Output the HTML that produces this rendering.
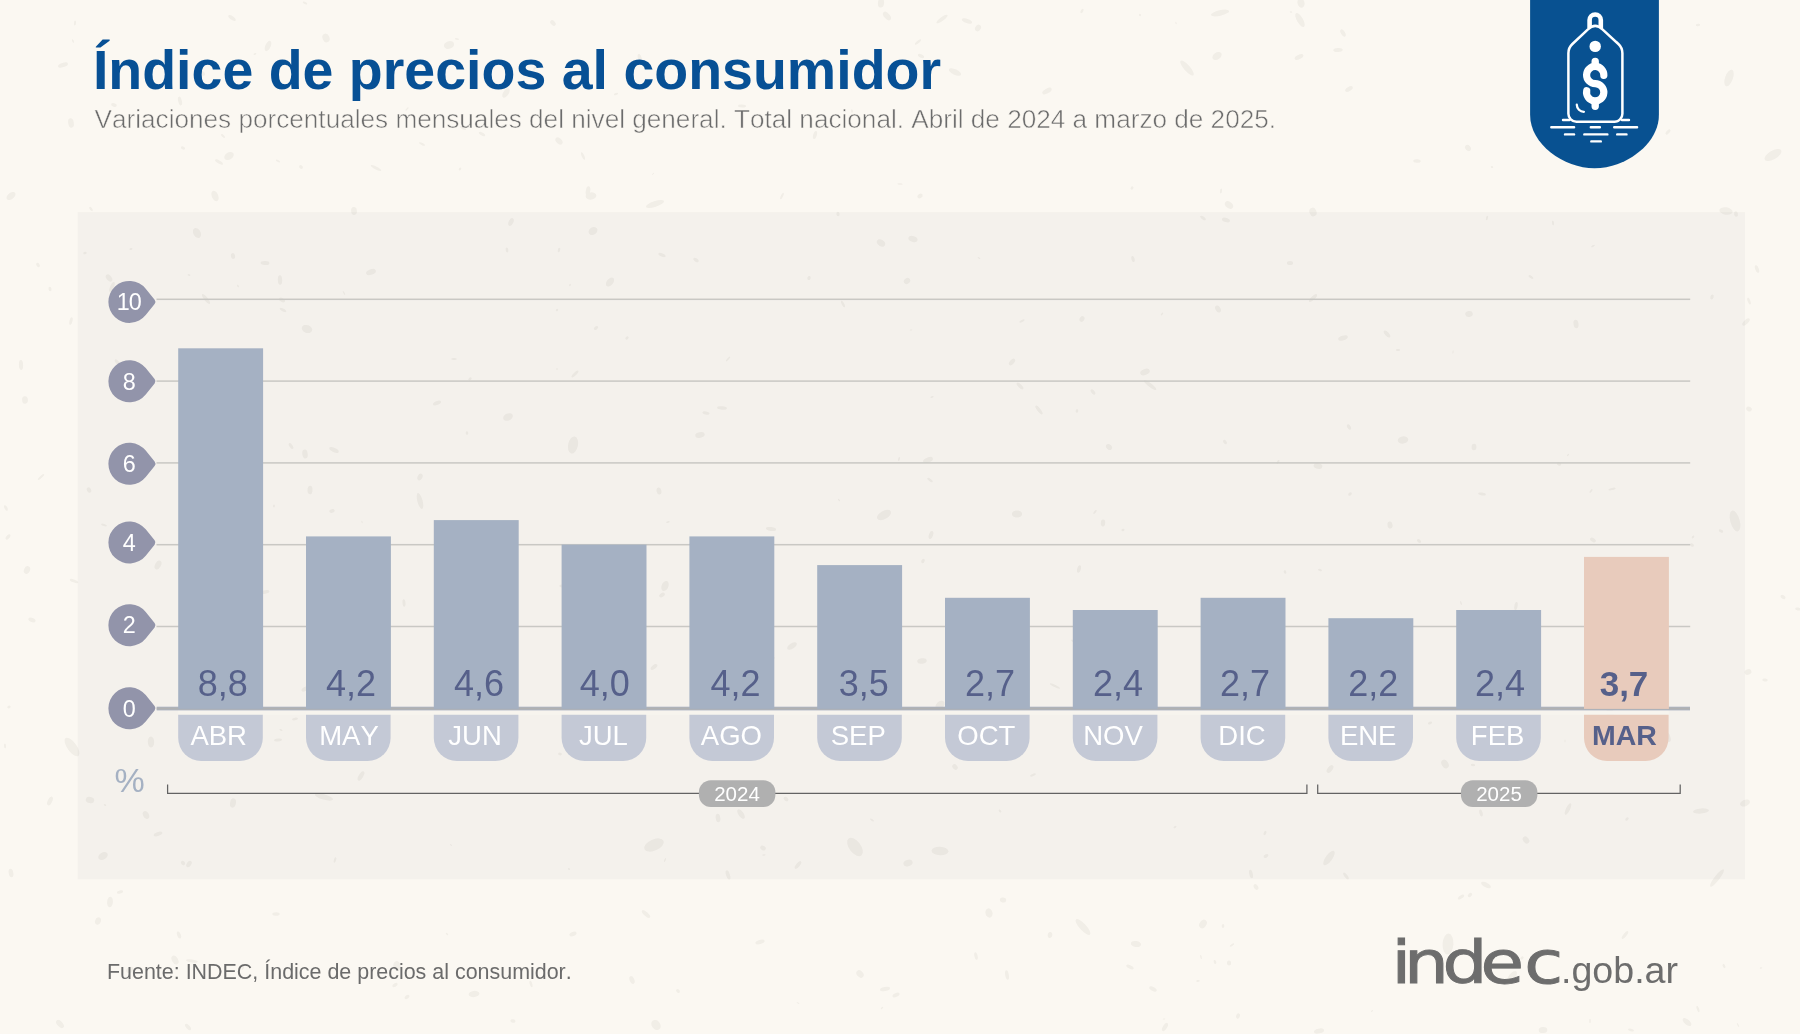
<!DOCTYPE html>
<html lang="es"><head><meta charset="utf-8"><title>Índice de precios al consumidor</title>
<style>
html,body{margin:0;padding:0;background:#fbf8f2;}
body{width:1800px;height:1034px;overflow:hidden;}
svg{display:block;}
text{font-family:"Liberation Sans",sans-serif;font-kerning:none;}
.t{font-weight:700;font-size:55.5px;fill:#075095;}
.s{font-size:26.15px;fill:#6c6c6c;stroke:#fbf8f2;stroke-width:0.55px;}
.v{font-size:36px;fill:#56608a;text-anchor:middle;}
.m{font-size:27.5px;fill:#ffffff;text-anchor:middle;}
.k{font-size:23.4px;fill:#ffffff;text-anchor:middle;}
.y{font-size:20.5px;fill:#ffffff;text-anchor:middle;}
.f{font-size:21.45px;fill:#6b6b6b;}
.w{fill:none;stroke:#ffffff;stroke-linecap:round;stroke-linejoin:round;}
</style></head><body>
<svg width="1800" height="1034" viewBox="0 0 1800 1034">
<rect width="1800" height="1034" fill="#fbf8f2"/>
<rect x="77.7" y="212.1" width="1667.3" height="667.2" fill="#f4f1ec"/>
<g fill="#3a3020" opacity="0.05"><ellipse cx="583" cy="156" rx="4.0" ry="1.3" transform="rotate(66 583 156)"/><ellipse cx="104" cy="525" rx="3.0" ry="1.1" transform="rotate(16 104 525)"/><ellipse cx="764" cy="855" rx="1.7" ry="0.7" transform="rotate(171 764 855)"/><ellipse cx="1039" cy="410" rx="5.4" ry="1.7" transform="rotate(52 1039 410)"/><ellipse cx="260" cy="122" rx="2.5" ry="1.8" transform="rotate(105 260 122)"/><ellipse cx="1150" cy="385" rx="7.8" ry="1.9" transform="rotate(37 1150 385)"/><ellipse cx="1225" cy="442" rx="2.6" ry="1.5" transform="rotate(54 1225 442)"/><ellipse cx="1430" cy="723" rx="2.2" ry="1.3" transform="rotate(158 1430 723)"/><ellipse cx="1313" cy="298" rx="5.4" ry="1.9" transform="rotate(136 1313 298)"/><ellipse cx="274" cy="506" rx="1.4" ry="0.9" transform="rotate(103 274 506)"/><ellipse cx="1576" cy="324" rx="4.2" ry="2.5" transform="rotate(82 1576 324)"/><ellipse cx="1512" cy="977" rx="7.1" ry="3.3" transform="rotate(126 1512 977)"/><ellipse cx="1165" cy="1027" rx="4.7" ry="2.1" transform="rotate(120 1165 1027)"/><ellipse cx="41" cy="477" rx="4.2" ry="1.1" transform="rotate(138 41 477)"/><ellipse cx="233" cy="256" rx="2.9" ry="2.1" transform="rotate(81 233 256)"/><ellipse cx="989" cy="913" rx="4.7" ry="3.5" transform="rotate(75 989 913)"/><ellipse cx="646" cy="914" rx="5.3" ry="2.0" transform="rotate(42 646 914)"/><ellipse cx="420" cy="501" rx="8.2" ry="2.6" transform="rotate(75 420 501)"/><ellipse cx="665" cy="586" rx="5.3" ry="3.4" transform="rotate(111 665 586)"/><ellipse cx="1217" cy="56" rx="5.1" ry="3.5" transform="rotate(144 1217 56)"/><ellipse cx="706" cy="413" rx="3.6" ry="1.6" transform="rotate(12 706 413)"/><ellipse cx="376" cy="168" rx="5.9" ry="1.4" transform="rotate(27 376 168)"/><ellipse cx="183" cy="376" rx="1.3" ry="1.0" transform="rotate(27 183 376)"/><ellipse cx="454" cy="359" rx="2.8" ry="1.0" transform="rotate(179 454 359)"/><ellipse cx="839" cy="500" rx="1.6" ry="0.6" transform="rotate(48 839 500)"/><ellipse cx="1492" cy="167" rx="1.3" ry="1.0" transform="rotate(26 1492 167)"/><ellipse cx="978" cy="28" rx="3.5" ry="2.7" transform="rotate(125 978 28)"/><ellipse cx="470" cy="379" rx="1.9" ry="1.3" transform="rotate(140 470 379)"/><ellipse cx="593" cy="231" rx="4.7" ry="3.7" transform="rotate(145 593 231)"/><ellipse cx="1473" cy="765" rx="2.2" ry="1.2" transform="rotate(5 1473 765)"/><ellipse cx="50" cy="289" rx="2.3" ry="1.5" transform="rotate(81 50 289)"/><ellipse cx="1687" cy="1022" rx="5.3" ry="2.6" transform="rotate(41 1687 1022)"/><ellipse cx="354" cy="211" rx="3.9" ry="2.9" transform="rotate(86 354 211)"/><ellipse cx="1175" cy="827" rx="1.6" ry="1.0" transform="rotate(141 1175 827)"/><ellipse cx="1350" cy="494" rx="2.0" ry="1.4" transform="rotate(144 1350 494)"/><ellipse cx="1749" cy="409" rx="2.9" ry="2.3" transform="rotate(31 1749 409)"/><ellipse cx="229" cy="156" rx="5.1" ry="3.6" transform="rotate(149 229 156)"/><ellipse cx="1765" cy="680" rx="2.7" ry="1.6" transform="rotate(3 1765 680)"/><ellipse cx="1748" cy="672" rx="3.5" ry="2.7" transform="rotate(157 1748 672)"/><ellipse cx="1487" cy="218" rx="2.3" ry="1.0" transform="rotate(106 1487 218)"/><ellipse cx="467" cy="433" rx="1.8" ry="1.3" transform="rotate(82 467 433)"/><ellipse cx="1050" cy="935" rx="3.0" ry="2.3" transform="rotate(96 1050 935)"/><ellipse cx="942" cy="19" rx="6.8" ry="1.9" transform="rotate(144 942 19)"/><ellipse cx="310" cy="490" rx="4.3" ry="2.5" transform="rotate(93 310 490)"/><ellipse cx="1000" cy="811" rx="1.7" ry="1.0" transform="rotate(50 1000 811)"/><ellipse cx="1390" cy="525" rx="3.6" ry="2.5" transform="rotate(80 1390 525)"/><ellipse cx="1103" cy="523" rx="3.4" ry="2.2" transform="rotate(96 1103 523)"/><ellipse cx="860" cy="974" rx="4.2" ry="3.1" transform="rotate(47 860 974)"/><ellipse cx="1007" cy="975" rx="4.8" ry="1.8" transform="rotate(80 1007 975)"/><ellipse cx="131" cy="249" rx="1.5" ry="1.0" transform="rotate(161 131 249)"/><ellipse cx="278" cy="740" rx="4.0" ry="1.5" transform="rotate(174 278 740)"/><ellipse cx="395" cy="985" rx="2.9" ry="1.6" transform="rotate(150 395 985)"/><ellipse cx="291" cy="446" rx="3.4" ry="1.6" transform="rotate(57 291 446)"/><ellipse cx="1300" cy="20" rx="7.9" ry="3.0" transform="rotate(60 1300 20)"/><ellipse cx="1123" cy="530" rx="1.5" ry="1.2" transform="rotate(175 1123 530)"/><ellipse cx="189" cy="275" rx="1.4" ry="0.9" transform="rotate(23 189 275)"/><ellipse cx="760" cy="942" rx="4.7" ry="2.0" transform="rotate(165 760 942)"/><ellipse cx="1027" cy="724" rx="1.6" ry="0.5" transform="rotate(77 1027 724)"/><ellipse cx="130" cy="970" rx="3.9" ry="2.8" transform="rotate(154 130 970)"/><ellipse cx="120" cy="892" rx="3.2" ry="1.5" transform="rotate(167 120 892)"/><ellipse cx="482" cy="134" rx="3.5" ry="1.5" transform="rotate(29 482 134)"/><ellipse cx="91" cy="209" rx="2.5" ry="1.2" transform="rotate(52 91 209)"/><ellipse cx="900" cy="184" rx="2.7" ry="0.8" transform="rotate(3 900 184)"/><ellipse cx="1320" cy="570" rx="2.0" ry="1.1" transform="rotate(19 1320 570)"/><ellipse cx="1474" cy="447" rx="3.3" ry="2.4" transform="rotate(91 1474 447)"/><ellipse cx="1238" cy="1016" rx="2.7" ry="1.9" transform="rotate(114 1238 1016)"/><ellipse cx="728" cy="359" rx="3.2" ry="0.8" transform="rotate(133 728 359)"/><ellipse cx="460" cy="169" rx="1.6" ry="1.1" transform="rotate(121 460 169)"/><ellipse cx="507" cy="250" rx="2.5" ry="1.3" transform="rotate(80 507 250)"/><ellipse cx="474" cy="994" rx="5.4" ry="3.1" transform="rotate(174 474 994)"/><ellipse cx="557" cy="369" rx="1.2" ry="0.6" transform="rotate(90 557 369)"/><ellipse cx="362" cy="522" rx="1.2" ry="0.5" transform="rotate(72 362 522)"/><ellipse cx="75" cy="23" rx="2.5" ry="1.0" transform="rotate(95 75 23)"/><ellipse cx="1351" cy="680" rx="4.3" ry="3.2" transform="rotate(59 1351 680)"/><ellipse cx="1773" cy="155" rx="9.5" ry="4.3" transform="rotate(150 1773 155)"/><ellipse cx="1605" cy="649" rx="4.4" ry="3.1" transform="rotate(94 1605 649)"/><ellipse cx="908" cy="863" rx="4.7" ry="3.3" transform="rotate(161 908 863)"/><ellipse cx="1229" cy="717" rx="2.2" ry="0.7" transform="rotate(65 1229 717)"/><ellipse cx="189" cy="864" rx="3.6" ry="2.2" transform="rotate(123 189 864)"/><ellipse cx="881" cy="3" rx="4.6" ry="3.1" transform="rotate(96 881 3)"/><ellipse cx="1187" cy="68" rx="9.6" ry="3.0" transform="rotate(48 1187 68)"/><ellipse cx="1313" cy="212" rx="4.4" ry="3.5" transform="rotate(69 1313 212)"/><ellipse cx="862" cy="707" rx="4.5" ry="2.7" transform="rotate(14 862 707)"/><ellipse cx="265" cy="263" rx="4.4" ry="2.0" transform="rotate(2 265 263)"/><ellipse cx="109" cy="278" rx="4.1" ry="2.6" transform="rotate(52 109 278)"/><ellipse cx="930" cy="480" rx="3.2" ry="1.2" transform="rotate(36 930 480)"/><ellipse cx="1761" cy="968" rx="1.3" ry="0.7" transform="rotate(174 1761 968)"/><ellipse cx="809" cy="278" rx="2.1" ry="1.6" transform="rotate(105 809 278)"/><ellipse cx="255" cy="542" rx="5.3" ry="1.9" transform="rotate(92 255 542)"/><ellipse cx="1596" cy="727" rx="2.2" ry="1.6" transform="rotate(4 1596 727)"/><ellipse cx="6" cy="508" rx="3.1" ry="1.4" transform="rotate(62 6 508)"/><ellipse cx="569" cy="869" rx="1.2" ry="0.8" transform="rotate(22 569 869)"/><ellipse cx="1668" cy="737" rx="5.1" ry="2.3" transform="rotate(71 1668 737)"/><ellipse cx="1798" cy="609" rx="2.8" ry="1.4" transform="rotate(9 1798 609)"/><ellipse cx="183" cy="863" rx="2.4" ry="1.9" transform="rotate(48 183 863)"/><ellipse cx="920" cy="196" rx="2.8" ry="2.2" transform="rotate(146 920 196)"/><ellipse cx="1136" cy="944" rx="5.2" ry="3.0" transform="rotate(9 1136 944)"/><ellipse cx="1318" cy="466" rx="4.4" ry="2.8" transform="rotate(9 1318 466)"/><ellipse cx="1668" cy="132" rx="3.2" ry="1.5" transform="rotate(133 1668 132)"/><ellipse cx="1757" cy="269" rx="4.0" ry="1.8" transform="rotate(71 1757 269)"/><ellipse cx="301" cy="167" rx="2.1" ry="1.6" transform="rotate(40 301 167)"/><ellipse cx="1631" cy="1030" rx="3.1" ry="1.2" transform="rotate(16 1631 1030)"/><ellipse cx="616" cy="94" rx="2.2" ry="1.0" transform="rotate(160 616 94)"/><ellipse cx="1349" cy="427" rx="3.0" ry="1.7" transform="rotate(61 1349 427)"/><ellipse cx="112" cy="287" rx="5.4" ry="1.9" transform="rotate(113 112 287)"/><ellipse cx="1553" cy="223" rx="2.4" ry="1.0" transform="rotate(80 1553 223)"/><ellipse cx="1717" cy="878" rx="10.9" ry="2.5" transform="rotate(128 1717 878)"/><ellipse cx="1612" cy="489" rx="3.7" ry="1.1" transform="rotate(167 1612 489)"/><ellipse cx="1486" cy="885" rx="5.4" ry="2.3" transform="rotate(28 1486 885)"/><ellipse cx="940" cy="705" rx="5.2" ry="3.5" transform="rotate(138 940 705)"/><ellipse cx="823" cy="570" rx="1.4" ry="0.9" transform="rotate(166 823 570)"/><ellipse cx="1162" cy="314" rx="1.8" ry="0.7" transform="rotate(126 1162 314)"/><ellipse cx="202" cy="73" rx="3.5" ry="2.0" transform="rotate(40 202 73)"/><ellipse cx="1082" cy="11" rx="2.5" ry="1.3" transform="rotate(116 1082 11)"/><ellipse cx="1591" cy="491" rx="2.2" ry="0.9" transform="rotate(127 1591 491)"/><ellipse cx="553" cy="23" rx="3.3" ry="2.1" transform="rotate(46 553 23)"/><ellipse cx="1201" cy="957" rx="2.2" ry="0.7" transform="rotate(76 1201 957)"/><ellipse cx="1229" cy="205" rx="4.6" ry="3.1" transform="rotate(37 1229 205)"/><ellipse cx="1746" cy="322" rx="4.7" ry="2.0" transform="rotate(137 1746 322)"/><ellipse cx="531" cy="984" rx="3.3" ry="1.3" transform="rotate(75 531 984)"/><ellipse cx="1198" cy="981" rx="1.8" ry="0.9" transform="rotate(175 1198 981)"/><ellipse cx="255" cy="54" rx="1.5" ry="0.7" transform="rotate(159 255 54)"/><ellipse cx="1319" cy="1031" rx="5.2" ry="2.4" transform="rotate(168 1319 1031)"/><ellipse cx="1343" cy="33" rx="4.1" ry="2.0" transform="rotate(60 1343 33)"/><ellipse cx="305" cy="3" rx="2.4" ry="1.1" transform="rotate(22 305 3)"/><ellipse cx="1736" cy="214" rx="2.7" ry="1.9" transform="rotate(78 1736 214)"/><ellipse cx="89" cy="490" rx="2.8" ry="2.1" transform="rotate(66 89 490)"/><ellipse cx="1615" cy="31" rx="3.0" ry="2.1" transform="rotate(7 1615 31)"/><ellipse cx="63" cy="65" rx="5.2" ry="2.2" transform="rotate(162 63 65)"/><ellipse cx="610" cy="282" rx="5.3" ry="3.2" transform="rotate(129 610 282)"/><ellipse cx="570" cy="285" rx="1.2" ry="0.8" transform="rotate(114 570 285)"/><ellipse cx="1698" cy="25" rx="2.2" ry="1.2" transform="rotate(172 1698 25)"/><ellipse cx="696" cy="260" rx="3.0" ry="1.7" transform="rotate(33 696 260)"/><ellipse cx="1445" cy="764" rx="4.7" ry="3.3" transform="rotate(59 1445 764)"/><ellipse cx="575" cy="374" rx="4.6" ry="1.5" transform="rotate(136 575 374)"/><ellipse cx="445" cy="67" rx="1.3" ry="0.8" transform="rotate(176 445 67)"/><ellipse cx="1590" cy="1021" rx="2.3" ry="0.8" transform="rotate(90 1590 1021)"/><ellipse cx="1278" cy="462" rx="2.2" ry="1.1" transform="rotate(121 1278 462)"/><ellipse cx="1346" cy="876" rx="4.1" ry="1.5" transform="rotate(53 1346 876)"/><ellipse cx="1020" cy="386" rx="4.4" ry="1.7" transform="rotate(44 1020 386)"/><ellipse cx="276" cy="914" rx="3.7" ry="1.7" transform="rotate(179 276 914)"/><ellipse cx="913" cy="239" rx="4.7" ry="2.9" transform="rotate(18 913 239)"/><ellipse cx="855" cy="847" rx="10.6" ry="5.8" transform="rotate(53 855 847)"/><ellipse cx="215" cy="196" rx="5.4" ry="3.2" transform="rotate(67 215 196)"/><ellipse cx="1559" cy="464" rx="2.3" ry="1.6" transform="rotate(19 1559 464)"/><ellipse cx="1073" cy="641" rx="2.1" ry="1.0" transform="rotate(37 1073 641)"/><ellipse cx="459" cy="620" rx="8.8" ry="2.6" transform="rotate(59 459 620)"/><ellipse cx="1221" cy="191" rx="2.5" ry="1.0" transform="rotate(99 1221 191)"/><ellipse cx="114" cy="105" rx="2.9" ry="1.7" transform="rotate(16 114 105)"/><ellipse cx="295" cy="719" rx="3.0" ry="1.3" transform="rotate(172 295 719)"/><ellipse cx="562" cy="586" rx="2.7" ry="1.4" transform="rotate(179 562 586)"/><ellipse cx="655" cy="204" rx="9.5" ry="2.8" transform="rotate(162 655 204)"/><ellipse cx="763" cy="848" rx="2.9" ry="2.2" transform="rotate(29 763 848)"/><ellipse cx="27" cy="570" rx="4.0" ry="3.0" transform="rotate(112 27 570)"/><ellipse cx="668" cy="522" rx="1.8" ry="0.8" transform="rotate(167 668 522)"/><ellipse cx="196" cy="507" rx="4.7" ry="3.7" transform="rotate(23 196 507)"/><ellipse cx="1698" cy="1009" rx="3.3" ry="1.1" transform="rotate(70 1698 1009)"/><ellipse cx="1628" cy="641" rx="4.7" ry="1.8" transform="rotate(40 1628 641)"/><ellipse cx="728" cy="875" rx="4.8" ry="1.9" transform="rotate(72 728 875)"/><ellipse cx="932" cy="397" rx="1.7" ry="0.7" transform="rotate(162 932 397)"/><ellipse cx="74" cy="581" rx="4.5" ry="1.4" transform="rotate(21 74 581)"/><ellipse cx="1079" cy="569" rx="3.9" ry="1.8" transform="rotate(105 1079 569)"/><ellipse cx="766" cy="681" rx="6.9" ry="2.6" transform="rotate(111 766 681)"/><ellipse cx="881" cy="243" rx="4.5" ry="3.1" transform="rotate(32 881 243)"/><ellipse cx="852" cy="111" rx="1.8" ry="0.9" transform="rotate(80 852 111)"/><ellipse cx="918" cy="42" rx="3.9" ry="1.3" transform="rotate(140 918 42)"/><ellipse cx="921" cy="56" rx="3.4" ry="1.6" transform="rotate(25 921 56)"/><ellipse cx="1543" cy="1030" rx="4.3" ry="3.1" transform="rotate(177 1543 1030)"/><ellipse cx="885" cy="989" rx="5.1" ry="2.0" transform="rotate(168 885 989)"/><ellipse cx="118" cy="363" rx="4.5" ry="1.7" transform="rotate(49 118 363)"/><ellipse cx="1468" cy="148" rx="3.4" ry="2.6" transform="rotate(47 1468 148)"/><ellipse cx="911" cy="330" rx="1.4" ry="0.5" transform="rotate(169 911 330)"/><ellipse cx="1223" cy="926" rx="1.9" ry="1.3" transform="rotate(96 1223 926)"/><ellipse cx="1145" cy="372" rx="5.0" ry="2.9" transform="rotate(159 1145 372)"/><ellipse cx="188" cy="1027" rx="3.9" ry="1.9" transform="rotate(48 188 1027)"/><ellipse cx="1783" cy="597" rx="2.7" ry="1.9" transform="rotate(32 1783 597)"/><ellipse cx="1338" cy="50" rx="4.7" ry="2.0" transform="rotate(177 1338 50)"/><ellipse cx="1055" cy="686" rx="5.6" ry="1.2" transform="rotate(27 1055 686)"/><ellipse cx="1109" cy="447" rx="3.4" ry="2.5" transform="rotate(41 1109 447)"/><ellipse cx="1176" cy="23" rx="1.2" ry="0.6" transform="rotate(64 1176 23)"/><ellipse cx="404" cy="603" rx="3.7" ry="1.5" transform="rotate(85 404 603)"/><ellipse cx="243" cy="968" rx="2.2" ry="0.8" transform="rotate(115 243 968)"/><ellipse cx="1568" cy="809" rx="6.4" ry="2.0" transform="rotate(116 1568 809)"/><ellipse cx="1012" cy="362" rx="4.0" ry="2.1" transform="rotate(132 1012 362)"/><ellipse cx="447" cy="934" rx="1.4" ry="0.8" transform="rotate(43 447 934)"/><ellipse cx="105" cy="805" rx="1.3" ry="0.7" transform="rotate(26 105 805)"/><ellipse cx="359" cy="629" rx="3.4" ry="2.1" transform="rotate(31 359 629)"/><ellipse cx="557" cy="310" rx="1.4" ry="1.0" transform="rotate(129 557 310)"/><ellipse cx="11" cy="873" rx="4.4" ry="2.3" transform="rotate(81 11 873)"/><ellipse cx="407" cy="109" rx="2.2" ry="0.7" transform="rotate(135 407 109)"/><ellipse cx="1251" cy="874" rx="4.3" ry="1.8" transform="rotate(78 1251 874)"/><ellipse cx="1419" cy="541" rx="2.3" ry="1.5" transform="rotate(39 1419 541)"/><ellipse cx="1584" cy="16" rx="2.3" ry="1.0" transform="rotate(170 1584 16)"/><ellipse cx="1343" cy="338" rx="5.0" ry="2.3" transform="rotate(163 1343 338)"/><ellipse cx="1135" cy="716" rx="4.1" ry="3.2" transform="rotate(151 1135 716)"/><ellipse cx="1256" cy="887" rx="3.1" ry="2.0" transform="rotate(55 1256 887)"/><ellipse cx="382" cy="644" rx="1.5" ry="1.2" transform="rotate(5 382 644)"/><ellipse cx="192" cy="961" rx="5.9" ry="1.6" transform="rotate(7 192 961)"/><ellipse cx="1247" cy="655" rx="9.2" ry="4.5" transform="rotate(106 1247 655)"/><ellipse cx="654" cy="845" rx="10.4" ry="5.6" transform="rotate(156 654 845)"/><ellipse cx="1646" cy="976" rx="1.7" ry="0.7" transform="rotate(6 1646 976)"/><ellipse cx="1526" cy="840" rx="3.9" ry="2.8" transform="rotate(52 1526 840)"/><ellipse cx="180" cy="101" rx="4.5" ry="1.8" transform="rotate(76 180 101)"/><ellipse cx="38" cy="265" rx="2.4" ry="1.6" transform="rotate(58 38 265)"/><ellipse cx="1735" cy="521" rx="10.7" ry="4.7" transform="rotate(74 1735 521)"/><ellipse cx="786" cy="799" rx="2.7" ry="1.8" transform="rotate(39 786 799)"/><ellipse cx="1552" cy="94" rx="10.4" ry="2.9" transform="rotate(36 1552 94)"/><ellipse cx="1372" cy="1011" rx="1.2" ry="0.7" transform="rotate(143 1372 1011)"/><ellipse cx="332" cy="511" rx="2.7" ry="1.9" transform="rotate(170 332 511)"/><ellipse cx="511" cy="222" rx="4.2" ry="2.3" transform="rotate(115 511 222)"/><ellipse cx="146" cy="815" rx="4.2" ry="2.9" transform="rotate(64 146 815)"/><ellipse cx="722" cy="408" rx="5.0" ry="1.7" transform="rotate(5 722 408)"/><ellipse cx="371" cy="272" rx="5.1" ry="2.8" transform="rotate(159 371 272)"/><ellipse cx="420" cy="477" rx="3.5" ry="2.4" transform="rotate(116 420 477)"/><ellipse cx="627" cy="338" rx="1.9" ry="1.3" transform="rotate(134 627 338)"/><ellipse cx="305" cy="454" rx="4.5" ry="2.7" transform="rotate(83 305 454)"/><ellipse cx="1593" cy="246" rx="2.0" ry="0.9" transform="rotate(152 1593 246)"/><ellipse cx="278" cy="161" rx="2.3" ry="1.0" transform="rotate(29 278 161)"/><ellipse cx="591" cy="196" rx="5.4" ry="3.6" transform="rotate(173 591 196)"/><ellipse cx="183" cy="397" rx="5.4" ry="3.8" transform="rotate(78 183 397)"/><ellipse cx="353" cy="660" rx="1.7" ry="0.7" transform="rotate(6 353 660)"/><ellipse cx="718" cy="818" rx="4.2" ry="2.3" transform="rotate(83 718 818)"/><ellipse cx="255" cy="624" rx="2.9" ry="2.0" transform="rotate(77 255 624)"/><ellipse cx="1033" cy="775" rx="3.0" ry="1.2" transform="rotate(158 1033 775)"/><ellipse cx="1393" cy="724" rx="4.9" ry="3.1" transform="rotate(82 1393 724)"/><ellipse cx="563" cy="650" rx="1.6" ry="0.8" transform="rotate(128 563 650)"/><ellipse cx="1133" cy="259" rx="3.0" ry="1.6" transform="rotate(74 1133 259)"/><ellipse cx="1215" cy="962" rx="2.0" ry="1.2" transform="rotate(70 1215 962)"/><ellipse cx="882" cy="1008" rx="1.4" ry="0.8" transform="rotate(141 882 1008)"/><ellipse cx="1693" cy="537" rx="1.6" ry="1.0" transform="rotate(129 1693 537)"/><ellipse cx="922" cy="661" rx="4.8" ry="2.7" transform="rotate(171 922 661)"/><ellipse cx="378" cy="708" rx="2.9" ry="2.0" transform="rotate(177 378 708)"/><ellipse cx="640" cy="59" rx="5.2" ry="1.9" transform="rotate(75 640 59)"/><ellipse cx="757" cy="722" rx="2.7" ry="1.2" transform="rotate(133 757 722)"/><ellipse cx="1692" cy="545" rx="2.1" ry="1.5" transform="rotate(38 1692 545)"/><ellipse cx="233" cy="803" rx="4.7" ry="2.9" transform="rotate(101 233 803)"/><ellipse cx="407" cy="997" rx="2.7" ry="1.7" transform="rotate(147 407 997)"/><ellipse cx="843" cy="304" rx="3.6" ry="1.3" transform="rotate(64 843 304)"/><ellipse cx="1531" cy="277" rx="2.8" ry="1.2" transform="rotate(33 1531 277)"/><ellipse cx="5" cy="746" rx="2.4" ry="1.0" transform="rotate(86 5 746)"/><ellipse cx="771" cy="659" rx="4.0" ry="1.9" transform="rotate(154 771 659)"/><ellipse cx="103" cy="856" rx="5.1" ry="3.5" transform="rotate(150 103 856)"/><ellipse cx="1140" cy="15" rx="1.2" ry="1.0" transform="rotate(45 1140 15)"/><ellipse cx="183" cy="148" rx="2.2" ry="1.5" transform="rotate(27 183 148)"/><ellipse cx="1627" cy="819" rx="1.9" ry="1.4" transform="rotate(141 1627 819)"/><ellipse cx="1203" cy="924" rx="4.6" ry="3.3" transform="rotate(125 1203 924)"/><ellipse cx="955" cy="767" rx="3.1" ry="2.3" transform="rotate(48 955 767)"/><ellipse cx="422" cy="144" rx="3.3" ry="1.1" transform="rotate(26 422 144)"/><ellipse cx="884" cy="515" rx="7.7" ry="4.1" transform="rotate(151 884 515)"/><ellipse cx="842" cy="582" rx="4.1" ry="2.9" transform="rotate(75 842 582)"/><ellipse cx="1729" cy="78" rx="8.7" ry="3.9" transform="rotate(110 1729 78)"/><ellipse cx="1229" cy="963" rx="2.6" ry="2.1" transform="rotate(87 1229 963)"/><ellipse cx="1616" cy="35" rx="4.3" ry="2.6" transform="rotate(155 1616 35)"/><ellipse cx="659" cy="491" rx="3.5" ry="2.4" transform="rotate(78 659 491)"/><ellipse cx="760" cy="573" rx="4.8" ry="2.1" transform="rotate(73 760 573)"/><ellipse cx="907" cy="281" rx="3.4" ry="2.7" transform="rotate(143 907 281)"/><ellipse cx="596" cy="328" rx="2.5" ry="1.5" transform="rotate(141 596 328)"/><ellipse cx="72" cy="747" rx="11.0" ry="4.6" transform="rotate(54 72 747)"/><ellipse cx="11" cy="196" rx="5.2" ry="3.1" transform="rotate(142 11 196)"/><ellipse cx="1638" cy="633" rx="3.9" ry="2.4" transform="rotate(107 1638 633)"/><ellipse cx="1226" cy="220" rx="4.1" ry="2.2" transform="rotate(18 1226 220)"/><ellipse cx="326" cy="38" rx="4.5" ry="3.4" transform="rotate(66 326 38)"/><ellipse cx="1481" cy="813" rx="3.6" ry="1.6" transform="rotate(76 1481 813)"/><ellipse cx="573" cy="445" rx="8.7" ry="4.9" transform="rotate(102 573 445)"/><ellipse cx="71" cy="123" rx="4.7" ry="2.8" transform="rotate(80 71 123)"/><ellipse cx="25" cy="400" rx="3.7" ry="2.9" transform="rotate(86 25 400)"/><ellipse cx="742" cy="106" rx="4.0" ry="1.6" transform="rotate(3 742 106)"/><ellipse cx="9" cy="707" rx="1.7" ry="1.3" transform="rotate(157 9 707)"/><ellipse cx="232" cy="18" rx="4.3" ry="1.8" transform="rotate(34 232 18)"/><ellipse cx="90" cy="800" rx="4.3" ry="3.1" transform="rotate(15 90 800)"/><ellipse cx="1132" cy="733" rx="3.2" ry="2.4" transform="rotate(174 1132 733)"/><ellipse cx="1291" cy="12" rx="1.3" ry="0.8" transform="rotate(14 1291 12)"/><ellipse cx="560" cy="754" rx="1.9" ry="1.4" transform="rotate(11 560 754)"/><ellipse cx="662" cy="595" rx="3.1" ry="2.0" transform="rotate(144 662 595)"/><ellipse cx="654" cy="667" rx="3.9" ry="2.0" transform="rotate(142 654 667)"/><ellipse cx="1701" cy="811" rx="8.0" ry="2.6" transform="rotate(175 1701 811)"/><ellipse cx="1266" cy="856" rx="2.6" ry="1.6" transform="rotate(150 1266 856)"/><ellipse cx="1082" cy="319" rx="3.0" ry="2.3" transform="rotate(123 1082 319)"/><ellipse cx="1083" cy="927" rx="10.3" ry="3.3" transform="rotate(47 1083 927)"/><ellipse cx="761" cy="607" rx="10.4" ry="5.6" transform="rotate(150 761 607)"/><ellipse cx="1461" cy="897" rx="3.7" ry="1.6" transform="rotate(145 1461 897)"/><ellipse cx="1232" cy="945" rx="2.7" ry="0.9" transform="rotate(144 1232 945)"/><ellipse cx="361" cy="776" rx="5.2" ry="2.2" transform="rotate(122 361 776)"/><ellipse cx="838" cy="214" rx="2.3" ry="1.6" transform="rotate(83 838 214)"/><ellipse cx="158" cy="834" rx="4.5" ry="1.9" transform="rotate(161 158 834)"/><ellipse cx="1593" cy="540" rx="3.2" ry="1.9" transform="rotate(35 1593 540)"/><ellipse cx="325" cy="725" rx="2.8" ry="1.6" transform="rotate(93 325 725)"/><ellipse cx="268" cy="46" rx="5.5" ry="2.7" transform="rotate(114 268 46)"/><ellipse cx="1417" cy="161" rx="3.8" ry="1.8" transform="rotate(4 1417 161)"/><ellipse cx="60" cy="1024" rx="4.9" ry="2.7" transform="rotate(47 60 1024)"/><ellipse cx="1403" cy="440" rx="5.3" ry="3.6" transform="rotate(173 1403 440)"/><ellipse cx="457" cy="39" rx="2.1" ry="0.8" transform="rotate(9 457 39)"/><ellipse cx="1003" cy="900" rx="3.2" ry="2.5" transform="rotate(12 1003 900)"/><ellipse cx="1077" cy="411" rx="1.7" ry="1.3" transform="rotate(102 1077 411)"/><ellipse cx="1153" cy="989" rx="4.1" ry="2.0" transform="rotate(29 1153 989)"/><ellipse cx="1738" cy="1025" rx="2.2" ry="0.7" transform="rotate(63 1738 1025)"/><ellipse cx="1625" cy="935" rx="4.8" ry="1.6" transform="rotate(128 1625 935)"/><ellipse cx="1164" cy="1019" rx="1.4" ry="0.5" transform="rotate(169 1164 1019)"/><ellipse cx="1218" cy="309" rx="3.7" ry="2.5" transform="rotate(58 1218 309)"/><ellipse cx="463" cy="128" rx="3.3" ry="1.3" transform="rotate(26 463 128)"/><ellipse cx="1220" cy="13" rx="9.4" ry="2.7" transform="rotate(167 1220 13)"/><ellipse cx="397" cy="966" rx="4.9" ry="3.7" transform="rotate(81 397 966)"/><ellipse cx="175" cy="960" rx="4.8" ry="3.0" transform="rotate(61 175 960)"/><ellipse cx="1482" cy="494" rx="3.9" ry="1.4" transform="rotate(10 1482 494)"/><ellipse cx="1285" cy="572" rx="1.8" ry="1.3" transform="rotate(74 1285 572)"/><ellipse cx="280" cy="280" rx="4.8" ry="2.2" transform="rotate(88 280 280)"/><ellipse cx="573" cy="934" rx="3.7" ry="2.1" transform="rotate(161 573 934)"/><ellipse cx="1203" cy="218" rx="3.3" ry="1.4" transform="rotate(36 1203 218)"/><ellipse cx="656" cy="1025" rx="5.5" ry="4.2" transform="rotate(52 656 1025)"/><ellipse cx="1613" cy="59" rx="4.3" ry="1.9" transform="rotate(3 1613 59)"/><ellipse cx="1453" cy="352" rx="1.8" ry="0.5" transform="rotate(95 1453 352)"/><ellipse cx="334" cy="450" rx="5.1" ry="2.1" transform="rotate(25 334 450)"/><ellipse cx="324" cy="797" rx="9.4" ry="2.7" transform="rotate(16 324 797)"/><ellipse cx="1095" cy="512" rx="2.4" ry="1.0" transform="rotate(127 1095 512)"/><ellipse cx="1461" cy="603" rx="2.1" ry="0.7" transform="rotate(73 1461 603)"/><ellipse cx="1299" cy="57" rx="4.7" ry="2.2" transform="rotate(156 1299 57)"/><ellipse cx="887" cy="16" rx="5.1" ry="2.8" transform="rotate(48 887 16)"/><ellipse cx="335" cy="860" rx="2.8" ry="1.1" transform="rotate(107 335 860)"/><ellipse cx="8" cy="537" rx="3.1" ry="1.7" transform="rotate(129 8 537)"/><ellipse cx="1470" cy="895" rx="2.6" ry="1.7" transform="rotate(135 1470 895)"/><ellipse cx="110" cy="902" rx="5.3" ry="2.9" transform="rotate(95 110 902)"/><ellipse cx="967" cy="21" rx="5.4" ry="2.2" transform="rotate(18 967 21)"/><ellipse cx="451" cy="845" rx="1.3" ry="0.5" transform="rotate(35 451 845)"/><ellipse cx="32" cy="620" rx="3.7" ry="2.1" transform="rotate(19 32 620)"/><ellipse cx="1565" cy="741" rx="1.4" ry="0.5" transform="rotate(90 1565 741)"/><ellipse cx="503" cy="126" rx="2.9" ry="1.1" transform="rotate(155 503 126)"/><ellipse cx="265" cy="592" rx="4.4" ry="1.7" transform="rotate(169 265 592)"/><ellipse cx="700" cy="435" rx="4.8" ry="2.7" transform="rotate(169 700 435)"/><ellipse cx="1398" cy="350" rx="2.2" ry="1.0" transform="rotate(177 1398 350)"/><ellipse cx="1448" cy="944" rx="10.4" ry="5.4" transform="rotate(93 1448 944)"/><ellipse cx="1724" cy="966" rx="2.3" ry="1.2" transform="rotate(66 1724 966)"/><ellipse cx="955" cy="72" rx="6.7" ry="2.7" transform="rotate(25 955 72)"/><ellipse cx="1745" cy="803" rx="5.2" ry="3.2" transform="rotate(159 1745 803)"/><ellipse cx="1592" cy="36" rx="4.0" ry="1.7" transform="rotate(49 1592 36)"/><ellipse cx="976" cy="956" rx="3.9" ry="1.6" transform="rotate(78 976 956)"/><ellipse cx="1712" cy="297" rx="2.5" ry="1.6" transform="rotate(107 1712 297)"/><ellipse cx="1721" cy="531" rx="2.4" ry="1.3" transform="rotate(27 1721 531)"/><ellipse cx="223" cy="136" rx="2.5" ry="1.2" transform="rotate(44 223 136)"/><ellipse cx="158" cy="565" rx="4.8" ry="2.9" transform="rotate(117 158 565)"/><ellipse cx="362" cy="735" rx="3.2" ry="1.8" transform="rotate(84 362 735)"/><ellipse cx="559" cy="250" rx="2.2" ry="1.2" transform="rotate(105 559 250)"/><ellipse cx="21" cy="365" rx="4.9" ry="2.1" transform="rotate(88 21 365)"/><ellipse cx="513" cy="1021" rx="2.5" ry="1.7" transform="rotate(12 513 1021)"/><ellipse cx="1568" cy="455" rx="1.5" ry="0.7" transform="rotate(132 1568 455)"/><ellipse cx="197" cy="233" rx="5.3" ry="3.6" transform="rotate(61 197 233)"/><ellipse cx="634" cy="698" rx="3.9" ry="2.8" transform="rotate(93 634 698)"/><ellipse cx="1330" cy="769" rx="4.5" ry="2.4" transform="rotate(128 1330 769)"/><ellipse cx="1646" cy="132" rx="4.9" ry="1.5" transform="rotate(105 1646 132)"/><ellipse cx="896" cy="995" rx="3.7" ry="1.9" transform="rotate(157 896 995)"/><ellipse cx="1093" cy="392" rx="3.1" ry="1.7" transform="rotate(53 1093 392)"/><ellipse cx="703" cy="574" rx="2.9" ry="1.3" transform="rotate(153 703 574)"/><ellipse cx="899" cy="459" rx="2.0" ry="0.9" transform="rotate(104 899 459)"/><ellipse cx="1047" cy="91" rx="5.2" ry="2.4" transform="rotate(151 1047 91)"/><ellipse cx="1726" cy="211" rx="6.7" ry="3.7" transform="rotate(9 1726 211)"/><ellipse cx="1017" cy="514" rx="5.2" ry="3.5" transform="rotate(180 1017 514)"/><ellipse cx="931" cy="535" rx="4.1" ry="2.1" transform="rotate(107 931 535)"/><ellipse cx="632" cy="980" rx="4.1" ry="2.3" transform="rotate(67 632 980)"/><ellipse cx="722" cy="580" rx="3.7" ry="2.7" transform="rotate(88 722 580)"/><ellipse cx="792" cy="646" rx="5.5" ry="2.6" transform="rotate(147 792 646)"/><ellipse cx="307" cy="329" rx="5.4" ry="3.9" transform="rotate(20 307 329)"/><ellipse cx="1610" cy="713" rx="4.7" ry="3.8" transform="rotate(76 1610 713)"/><ellipse cx="282" cy="300" rx="3.4" ry="1.9" transform="rotate(33 282 300)"/><ellipse cx="1134" cy="624" rx="2.7" ry="2.2" transform="rotate(8 1134 624)"/><ellipse cx="741" cy="814" rx="5.5" ry="2.6" transform="rotate(55 741 814)"/><ellipse cx="1516" cy="606" rx="4.1" ry="1.6" transform="rotate(100 1516 606)"/><ellipse cx="479" cy="669" rx="3.5" ry="2.8" transform="rotate(74 479 669)"/><ellipse cx="219" cy="162" rx="4.5" ry="1.6" transform="rotate(31 219 162)"/><ellipse cx="940" cy="851" rx="8.4" ry="4.3" transform="rotate(2 940 851)"/><ellipse cx="1387" cy="334" rx="4.3" ry="2.0" transform="rotate(48 1387 334)"/><ellipse cx="179" cy="935" rx="3.7" ry="1.8" transform="rotate(69 179 935)"/><ellipse cx="98" cy="921" rx="3.7" ry="2.9" transform="rotate(112 98 921)"/><ellipse cx="449" cy="45" rx="5.2" ry="3.8" transform="rotate(162 449 45)"/><ellipse cx="1469" cy="314" rx="3.8" ry="3.0" transform="rotate(171 1469 314)"/><ellipse cx="437" cy="403" rx="4.3" ry="1.8" transform="rotate(158 437 403)"/><ellipse cx="872" cy="820" rx="2.2" ry="0.9" transform="rotate(34 872 820)"/><ellipse cx="1749" cy="301" rx="3.6" ry="1.3" transform="rotate(69 1749 301)"/><ellipse cx="726" cy="68" rx="1.7" ry="1.2" transform="rotate(44 726 68)"/><ellipse cx="344" cy="293" rx="2.2" ry="0.7" transform="rotate(61 344 293)"/><ellipse cx="281" cy="730" rx="1.6" ry="0.7" transform="rotate(23 281 730)"/><ellipse cx="798" cy="865" rx="4.7" ry="1.8" transform="rotate(130 798 865)"/><ellipse cx="678" cy="991" rx="2.1" ry="1.6" transform="rotate(41 678 991)"/><ellipse cx="815" cy="135" rx="4.2" ry="1.8" transform="rotate(106 815 135)"/><ellipse cx="662" cy="255" rx="3.8" ry="1.6" transform="rotate(22 662 255)"/><ellipse cx="923" cy="561" rx="2.4" ry="1.6" transform="rotate(118 923 561)"/><ellipse cx="1022" cy="321" rx="2.9" ry="1.0" transform="rotate(153 1022 321)"/><ellipse cx="578" cy="685" rx="1.7" ry="1.0" transform="rotate(90 578 685)"/><ellipse cx="535" cy="68" rx="2.5" ry="1.0" transform="rotate(129 535 68)"/><ellipse cx="508" cy="417" rx="5.1" ry="3.5" transform="rotate(155 508 417)"/><ellipse cx="238" cy="286" rx="1.3" ry="0.8" transform="rotate(63 238 286)"/><ellipse cx="743" cy="681" rx="4.2" ry="1.8" transform="rotate(63 743 681)"/><ellipse cx="1132" cy="188" rx="1.7" ry="1.3" transform="rotate(128 1132 188)"/><ellipse cx="73" cy="41" rx="1.9" ry="0.8" transform="rotate(69 73 41)"/><ellipse cx="71" cy="321" rx="3.9" ry="1.5" transform="rotate(103 71 321)"/><ellipse cx="1290" cy="263" rx="3.1" ry="2.0" transform="rotate(0 1290 263)"/><ellipse cx="1502" cy="803" rx="2.4" ry="0.8" transform="rotate(109 1502 803)"/><ellipse cx="85" cy="253" rx="1.7" ry="1.2" transform="rotate(165 85 253)"/><ellipse cx="1349" cy="89" rx="4.2" ry="2.1" transform="rotate(149 1349 89)"/><ellipse cx="506" cy="93" rx="5.3" ry="2.7" transform="rotate(124 506 93)"/><ellipse cx="1329" cy="858" rx="8.6" ry="3.3" transform="rotate(126 1329 858)"/><ellipse cx="771" cy="529" rx="5.2" ry="1.9" transform="rotate(8 771 529)"/><ellipse cx="1265" cy="833" rx="2.3" ry="1.3" transform="rotate(115 1265 833)"/><ellipse cx="979" cy="258" rx="1.5" ry="0.7" transform="rotate(36 979 258)"/><ellipse cx="559" cy="141" rx="4.2" ry="2.7" transform="rotate(44 559 141)"/><ellipse cx="928" cy="460" rx="5.2" ry="2.5" transform="rotate(159 928 460)"/><ellipse cx="255" cy="582" rx="2.6" ry="1.9" transform="rotate(137 255 582)"/><ellipse cx="305" cy="689" rx="3.8" ry="2.0" transform="rotate(150 305 689)"/><ellipse cx="206" cy="299" rx="6.1" ry="1.8" transform="rotate(51 206 299)"/><ellipse cx="355" cy="725" rx="3.1" ry="1.1" transform="rotate(84 355 725)"/><ellipse cx="653" cy="174" rx="1.5" ry="0.5" transform="rotate(135 653 174)"/><ellipse cx="151" cy="742" rx="5.4" ry="3.2" transform="rotate(88 151 742)"/><ellipse cx="782" cy="196" rx="3.5" ry="1.1" transform="rotate(116 782 196)"/><ellipse cx="1130" cy="967" rx="4.0" ry="1.7" transform="rotate(25 1130 967)"/><ellipse cx="50" cy="801" rx="4.8" ry="2.2" transform="rotate(115 50 801)"/><ellipse cx="1522" cy="958" rx="1.9" ry="1.3" transform="rotate(134 1522 958)"/><ellipse cx="588" cy="191" rx="4.7" ry="2.2" transform="rotate(99 588 191)"/><ellipse cx="665" cy="860" rx="2.2" ry="0.7" transform="rotate(113 665 860)"/><ellipse cx="1476" cy="730" rx="5.1" ry="3.9" transform="rotate(90 1476 730)"/><ellipse cx="283" cy="310" rx="3.7" ry="1.3" transform="rotate(29 283 310)"/><ellipse cx="798" cy="1003" rx="1.6" ry="0.5" transform="rotate(34 798 1003)"/><ellipse cx="1301" cy="3" rx="4.8" ry="3.5" transform="rotate(77 1301 3)"/></g>
<text class="t" x="92.9" y="88.7">Índice de precios al consumidor</text>
<text class="s" x="94.6" y="128.3">Variaciones porcentuales mensuales del nivel general. Total nacional. Abril de 2024 a marzo de 2025.</text>
<path d="M1530.1 0H1658.9V115C1658.9 144 1625.5 168.3 1594.5 168.3C1563.5 168.3 1530.1 144 1530.1 115Z" fill="#085191"/>
<g class="w">
<path d="M1589.6000000000001 28V20.1A5.6 5.6 0 0 1 1600.8 20.1V28" stroke-width="4.6" stroke-linecap="butt"/>
<path d="M1568.4 113.8V53.30Q1568.4 47.8 1572.40 44.02L1587.93 29.36Q1595.2 22.5 1602.47 29.36L1618.40 44.02Q1622.4 47.8 1622.4 53.30V113.8A8.0 8.0 0 0 1 1614.4 121.8H1576.4A8.0 8.0 0 0 1 1568.4 113.8Z" stroke-width="2.5"/>
<circle cx="1595.2" cy="46.4" r="5.7" fill="#ffffff" stroke="none"/>
<path d="M1603.83 75.45A8.63 8.63 0 1 0 1595.2 83.68A8.63 8.63 0 1 1 1586.72 90.71" stroke-width="7.2"/>
<path d="M1595.2 61.5V66M1595.2 101.5V106.2" stroke-width="7.4"/>
<path d="M1576.8 104.7A7.2 7.2 0 0 0 1583.9 111.8" stroke-width="2.3"/>
<path d="M1563 120.05H1569.5M1622 120.05H1629M1551.3 127.3H1574.1M1590.8 127.3H1599.9M1614.2 127.3H1637.1M1565 134.4H1574.1M1584.3 134.4H1607.4M1617.2 134.4H1626.5M1591.3 141.4H1600.8" stroke-width="2.4"/>
</g>
<rect x="156.5" y="298.55" width="1533.7" height="1.5" fill="#c9c8c4"/>
<rect x="156.5" y="380.35" width="1533.7" height="1.5" fill="#c9c8c4"/>
<rect x="156.5" y="462.15" width="1533.7" height="1.5" fill="#c9c8c4"/>
<rect x="156.5" y="543.95" width="1533.7" height="1.5" fill="#c9c8c4"/>
<rect x="156.5" y="625.75" width="1533.7" height="1.5" fill="#c9c8c4"/>
<rect x="178.2" y="710.4" width="1490.7" height="4.4" fill="#f7f4ee"/>
<rect x="156.7" y="706.7" width="1533.3" height="3.7" fill="#adb3c4"/>
<rect x="156.7" y="707.4" width="1533.3" height="2.2" fill="#b0b1b1"/>
<rect x="178.2" y="348.3" width="84.9" height="360.6" fill="#a5b1c3"/>
<rect x="306.0" y="536.4" width="84.9" height="172.5" fill="#a5b1c3"/>
<rect x="433.8" y="520.1" width="84.9" height="188.8" fill="#a5b1c3"/>
<rect x="561.6" y="544.6" width="84.9" height="164.3" fill="#a5b1c3"/>
<rect x="689.4" y="536.4" width="84.9" height="172.5" fill="#a5b1c3"/>
<rect x="817.2" y="565.1" width="84.9" height="143.8" fill="#a5b1c3"/>
<rect x="945.0" y="597.8" width="84.9" height="111.1" fill="#a5b1c3"/>
<rect x="1072.8" y="610.0" width="84.9" height="98.9" fill="#a5b1c3"/>
<rect x="1200.6" y="597.8" width="84.9" height="111.1" fill="#a5b1c3"/>
<rect x="1328.4" y="618.2" width="84.9" height="90.7" fill="#a5b1c3"/>
<rect x="1456.2" y="610.0" width="84.9" height="98.9" fill="#a5b1c3"/>
<rect x="1584.0" y="556.9" width="84.9" height="152.0" fill="#e8cbbc"/>
<path d="M178.2 714.7H262.8V738A23 23 0 0 1 239.8 761H201.2A23 23 0 0 1 178.2 738Z" fill="#c4c9d6"/>
<path d="M306.0 714.7H390.6V738A23 23 0 0 1 367.6 761H329.0A23 23 0 0 1 306.0 738Z" fill="#c4c9d6"/>
<path d="M433.8 714.7H518.4V738A23 23 0 0 1 495.4 761H456.8A23 23 0 0 1 433.8 738Z" fill="#c4c9d6"/>
<path d="M561.6 714.7H646.2V738A23 23 0 0 1 623.2 761H584.6A23 23 0 0 1 561.6 738Z" fill="#c4c9d6"/>
<path d="M689.4 714.7H774.0V738A23 23 0 0 1 751.0 761H712.4A23 23 0 0 1 689.4 738Z" fill="#c4c9d6"/>
<path d="M817.2 714.7H901.8V738A23 23 0 0 1 878.8 761H840.2A23 23 0 0 1 817.2 738Z" fill="#c4c9d6"/>
<path d="M945.0 714.7H1029.6V738A23 23 0 0 1 1006.6 761H968.0A23 23 0 0 1 945.0 738Z" fill="#c4c9d6"/>
<path d="M1072.8 714.7H1157.4V738A23 23 0 0 1 1134.4 761H1095.8A23 23 0 0 1 1072.8 738Z" fill="#c4c9d6"/>
<path d="M1200.6 714.7H1285.2V738A23 23 0 0 1 1262.2 761H1223.6A23 23 0 0 1 1200.6 738Z" fill="#c4c9d6"/>
<path d="M1328.4 714.7H1413.0V738A23 23 0 0 1 1390.0 761H1351.4A23 23 0 0 1 1328.4 738Z" fill="#c4c9d6"/>
<path d="M1456.2 714.7H1540.8V738A23 23 0 0 1 1517.8 761H1479.2A23 23 0 0 1 1456.2 738Z" fill="#c4c9d6"/>
<path d="M1584.0 714.7H1668.6V738A23 23 0 0 1 1645.6 761H1607.0A23 23 0 0 1 1584.0 738Z" fill="#e8cbbc"/>
<text class="v" x="222.70" y="696.3">8,8</text>
<text class="m" x="218.70" y="745.4">ABR</text>
<text class="v" x="351.00" y="696.3">4,2</text>
<text class="m" x="349.00" y="745.4">MAY</text>
<text class="v" x="479.00" y="696.3">4,6</text>
<text class="m" x="475.10" y="745.4">JUN</text>
<text class="v" x="604.80" y="696.3">4,0</text>
<text class="m" x="603.40" y="745.4">JUL</text>
<text class="v" x="735.40" y="696.3">4,2</text>
<text class="m" x="731.40" y="745.4">AGO</text>
<text class="v" x="863.80" y="696.3">3,5</text>
<text class="m" x="858.30" y="745.4">SEP</text>
<text class="v" x="990.10" y="696.3">2,7</text>
<text class="m" x="986.30" y="745.4">OCT</text>
<text class="v" x="1118.00" y="696.3">2,4</text>
<text class="m" x="1113.00" y="745.4">NOV</text>
<text class="v" x="1244.90" y="696.3">2,7</text>
<text class="m" x="1242.00" y="745.4">DIC</text>
<text class="v" x="1373.20" y="696.3">2,2</text>
<text class="m" x="1368.20" y="745.4">ENE</text>
<text class="v" x="1500.10" y="696.3">2,4</text>
<text class="m" x="1497.60" y="745.4">FEB</text>
<text class="v" x="1624.00" y="696.3" style="font-weight:700;font-size:35px">3,7</text>
<text class="m" x="1624.40" y="745.4" style="font-weight:700;fill:#56608a;font-size:28.5px">MAR</text>
<path d="M145.73 288.70L154.62 299.70A3.5 3.5 0 0 1 154.62 304.10L145.73 315.10A21.0 21.0 0 1 1 145.73 288.70Z" fill="#9294aa"/>
<text class="k" x="128.75000000000003" y="310.1" style="letter-spacing:-0.9px">10</text>
<path d="M145.73 368.10L154.62 379.10A3.5 3.5 0 0 1 154.62 383.50L145.73 394.50A21.0 21.0 0 1 1 145.73 368.10Z" fill="#9294aa"/>
<text class="k" x="129.20000000000002" y="389.5">8</text>
<path d="M145.73 450.60L154.62 461.60A3.5 3.5 0 0 1 154.62 466.00L145.73 477.00A21.0 21.0 0 1 1 145.73 450.60Z" fill="#9294aa"/>
<text class="k" x="129.20000000000002" y="472.0">6</text>
<path d="M145.73 529.30L154.62 540.30A3.5 3.5 0 0 1 154.62 544.70L145.73 555.70A21.0 21.0 0 1 1 145.73 529.30Z" fill="#9294aa"/>
<text class="k" x="129.20000000000002" y="550.7">4</text>
<path d="M145.73 612.00L154.62 623.00A3.5 3.5 0 0 1 154.62 627.40L145.73 638.40A21.0 21.0 0 1 1 145.73 612.00Z" fill="#9294aa"/>
<text class="k" x="129.20000000000002" y="633.4">2</text>
<path d="M145.73 695.10L154.62 706.10A3.5 3.5 0 0 1 154.62 710.50L145.73 721.50A21.0 21.0 0 1 1 145.73 695.10Z" fill="#9294aa"/>
<text class="k" x="129.20000000000002" y="716.5">0</text>
<text x="114.6" y="792.3" style="font-size:34px;fill:#a5b1c3">%</text>
<path d="M167.6 784.4V793.3H1306.9V784.4M1317.7 784.4V793.3H1680.2V784.4" fill="none" stroke="#636363" stroke-width="1.25"/>
<rect x="698.9" y="780.3" width="76.5" height="26.6" rx="12" fill="#b0b0b0"/>
<text class="y" x="737" y="800.9">2024</text>
<rect x="1460.9" y="780.3" width="76.5" height="26.6" rx="12" fill="#b0b0b0"/>
<text class="y" x="1499" y="800.9">2025</text>
<text class="f" x="107" y="979.3">Fuente: INDEC, Índice de precios al consumidor.</text>
<text transform="translate(0 983.3) scale(1.2 1)" x="1159.50 1170.00 1202.17 1233.83 1270.17" y="0" style="font-family:'DejaVu Sans','Liberation Sans',sans-serif;font-size:59px;fill:#6d6d6d;stroke:#6d6d6d;stroke-width:0.9px">indec</text>
<text x="1561" y="982.7" style="font-size:37.6px;fill:#6d6d6d">.gob.ar</text>
</svg></body></html>
